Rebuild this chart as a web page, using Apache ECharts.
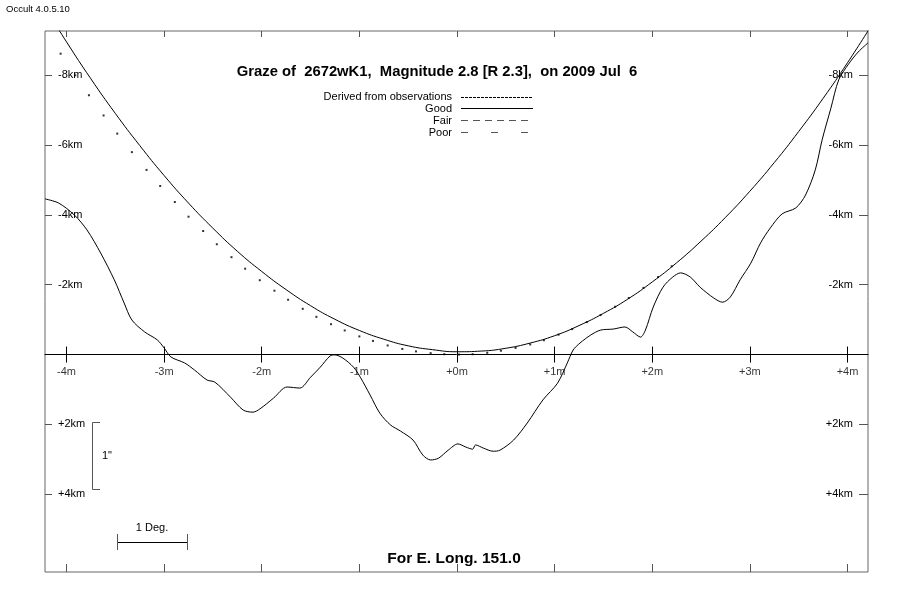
<!DOCTYPE html>
<html>
<head>
<meta charset="utf-8">
<script src="https://cdn.jsdelivr.net/npm/echarts@6/dist/echarts.min.js"></script>
<style>
html,body{margin:0;padding:0;background:#fff;}
#chart{width:913px;height:602px;}
</style>
</head>
<body>
<div id="chart"></div>
<script>
// Tick values
const tickMinutes = [-4, -3, -2, -1, 0, 1, 2, 3, 4];
const tickKm = [-8, -6, -4, -2, 2, 4];

// Limb profile (minutes of arc, km)
const profileX = [-4.22,-4.08,-3.92,-3.79,-3.65,-3.51,-3.41,-3.33,-3.20,-3.07,-3.00,-2.93,-2.79,-2.69,-2.56,-2.48,-2.32,-2.19,-2.09,-2.02,-1.88,-1.74,-1.61,-1.50,-1.40,-1.30,-1.25,-1.17,-1.06,-0.99,-0.89,-0.79,-0.68,-0.58,-0.45,-0.35,-0.27,-0.19,-0.09,0.01,0.09,0.16,0.19,0.27,0.37,0.44,0.58,0.72,0.88,1.03,1.13,1.19,1.26,1.37,1.47,1.60,1.72,1.80,1.88,1.93,2.01,2.11,2.21,2.29,2.39,2.49,2.63,2.72,2.80,2.90,3.01,3.11,3.21,3.33,3.47,3.57,3.67,3.74,3.83,3.91,4.01,4.11,4.21];
const profileY = [-4.46,-4.34,-4.00,-3.57,-2.91,-2.14,-1.48,-0.99,-0.65,-0.42,-0.19,0.07,0.24,0.44,0.73,0.79,1.22,1.59,1.65,1.56,1.25,0.93,0.96,0.65,0.36,0.04,0.01,0.10,0.36,0.65,1.16,1.68,2.02,2.19,2.45,2.88,3.02,2.97,2.74,2.56,2.65,2.71,2.59,2.68,2.77,2.74,2.45,1.96,1.30,0.82,0.24,-0.13,-0.33,-0.56,-0.70,-0.73,-0.79,-0.65,-0.50,-0.70,-1.36,-1.93,-2.22,-2.34,-2.22,-1.93,-1.62,-1.50,-1.65,-2.14,-2.62,-3.20,-3.63,-4.03,-4.20,-4.57,-5.29,-6.15,-7.06,-7.87,-8.32,-8.67,-8.93];

// Predicted limb (solid smooth curve)
const predX = [-4.25,-4.00,-3.75,-3.50,-3.25,-3.00,-2.75,-2.50,-2.25,-2.00,-1.75,-1.50,-1.25,-1.00,-0.75,-0.50,-0.25,0.00,0.25,0.50,0.75,1.00,1.25,1.50,1.75,2.00,2.25,2.50,2.75,3.00,3.25,3.50,3.75,4.00,4.25];
const predY = [-10.08,-8.96,-7.90,-6.91,-5.99,-5.13,-4.34,-3.62,-2.96,-2.38,-1.86,-1.40,-1.01,-0.69,-0.44,-0.25,-0.14,-0.08,-0.10,-0.18,-0.33,-0.54,-0.83,-1.18,-1.59,-2.08,-2.63,-3.25,-3.93,-4.68,-5.50,-6.39,-7.34,-8.36,-9.45];

// Curve derived from observations (dots)
const obsX = [-4.06,-3.91,-3.77,-3.62,-3.48,-3.33,-3.18,-3.04,-2.89,-2.75,-2.60,-2.46,-2.31,-2.17,-2.02,-1.87,-1.73,-1.58,-1.44,-1.29,-1.15,-1.00,-0.86,-0.71,-0.56,-0.42,-0.27,-0.13,0.02,0.16,0.31,0.45,0.60,0.75,0.89,1.04,1.18,1.33,1.47,1.62,1.76,1.91,2.06,2.20];
const obsY = [-8.62,-8.00,-7.43,-6.85,-6.33,-5.80,-5.29,-4.83,-4.37,-3.95,-3.54,-3.16,-2.79,-2.46,-2.13,-1.83,-1.57,-1.31,-1.08,-0.87,-0.69,-0.52,-0.39,-0.26,-0.16,-0.09,-0.04,-0.01,0.00,-0.01,-0.05,-0.11,-0.19,-0.29,-0.41,-0.57,-0.73,-0.93,-1.13,-1.37,-1.62,-1.91,-2.22,-2.53];

const zip = (a, b) => a.map((v, i) => [v, b[i]]);
const FONT = 'Liberation Sans, Arial, sans-serif';
const X_MIN = -4.22, X_MAX = 4.21, Y_MIN = -9.27, Y_MAX = 6.23;

const kmFmt = v => (v > 0 ? '+' + v : '' + v) + 'km';
const minFmt = v => (v >= 0 ? '+' + v : '' + v) + 'm';

function xAx(pos, onZero, tickInside, tickLen, showLine) {
  return {
    type: 'value', min: X_MIN, max: X_MAX, position: pos,
    axisLine: { show: showLine, onZero: onZero, lineStyle: { color: '#000', width: 1 } },
    axisTick: { show: true, inside: tickInside, length: tickLen, customValues: tickMinutes,
      lineStyle: { color: onZero ? '#000' : '#555', width: 1 } },
    axisLabel: { show: false },
    splitLine: { show: false }
  };
}
function yAx(pos, tickLen, margin) {
  return {
    type: 'value', min: Y_MIN, max: Y_MAX, inverse: true, position: pos,
    axisLine: { show: false, onZero: false },
    axisTick: { show: true, inside: true, length: tickLen, customValues: tickKm,
      lineStyle: { color: '#555', width: 1 } },
    axisLabel: { show: true, inside: true, customValues: tickKm, formatter: kmFmt,
      color: '#000', fontSize: 11, fontFamily: FONT, margin: margin },
    splitLine: { show: false }
  };
}

const chart = echarts.init(document.getElementById('chart'), null, { renderer: 'canvas' });
chart.setOption({
  animation: false,
  backgroundColor: '#fff',
  grid: { left: 45, right: 45, top: 31, bottom: 30, show: true, borderColor: '#666', borderWidth: 1, backgroundColor: 'transparent' },
  xAxis: [
    xAx('bottom', false, true, 8, false),
    xAx('top', false, true, 6, false),
    xAx('bottom', true, false, 8, true),
    xAx('bottom', true, true, 8, false)
  ],
  yAxis: [ yAx('left', 7, 13), yAx('right', 9, 15) ],
  series: [
    { type: 'line', xAxisIndex: 2, yAxisIndex: 0, data: zip(profileX, profileY), smooth: 0.3,
      showSymbol: false, symbol: 'none', lineStyle: { color: '#000', width: 1 } },
    { type: 'line', xAxisIndex: 2, yAxisIndex: 0, data: zip(predX, predY), smooth: true,
      showSymbol: false, symbol: 'none', lineStyle: { color: '#000', width: 1 } },
    { type: 'scatter', xAxisIndex: 2, yAxisIndex: 0, data: zip(obsX, obsY), symbol: 'rect',
      symbolSize: 2, itemStyle: { color: '#000' } },
    // minute labels under the zero line
    { type: 'scatter', xAxisIndex: 2, yAxisIndex: 0, data: tickMinutes.map(m => [m, 0]),
      symbolSize: 0, silent: true,
      label: { show: true, position: 'bottom', distance: 12, formatter: p => minFmt(p.value[0]),
        color: '#000', fontSize: 11, fontFamily: FONT } }
  ],
  graphic: [
    { type: 'text', style: { text: 'Occult 4.0.5.10', x: 6, y: 9, align: 'left', verticalAlign: 'middle', font: '9.5px ' + FONT, fill: '#000' } },
    { type: 'text', style: { text: 'Graze of  2672wK1,  Magnitude 2.8 [R 2.3],  on 2009 Jul  6', x: 437, y: 72, align: 'center', verticalAlign: 'middle', font: 'bold 14.8px ' + FONT, fill: '#000' } },
    { type: 'text', style: { text: 'Derived from observations', x: 452, y: 97, align: 'right', verticalAlign: 'middle', font: '11px ' + FONT, fill: '#000' } },
    { type: 'text', style: { text: 'Good', x: 452, y: 109, align: 'right', verticalAlign: 'middle', font: '11px ' + FONT, fill: '#000' } },
    { type: 'text', style: { text: 'Fair', x: 452, y: 121, align: 'right', verticalAlign: 'middle', font: '11px ' + FONT, fill: '#000' } },
    { type: 'text', style: { text: 'Poor', x: 452, y: 133, align: 'right', verticalAlign: 'middle', font: '11px ' + FONT, fill: '#000' } },
    { type: 'line', shape: { x1: 461, y1: 97.5, x2: 533, y2: 97.5 }, style: { stroke: '#000', lineWidth: 1, lineDash: [3, 1] } },
    { type: 'line', shape: { x1: 461, y1: 108.5, x2: 533, y2: 108.5 }, style: { stroke: '#000', lineWidth: 1 } },
    { type: 'line', shape: { x1: 461, y1: 120.5, x2: 533, y2: 120.5 }, style: { stroke: '#555', lineWidth: 1, lineDash: [7, 5] } },
    { type: 'line', shape: { x1: 461, y1: 132.5, x2: 533, y2: 132.5 }, style: { stroke: '#555', lineWidth: 1, lineDash: [7, 23] } },
    // 1" vertical scale
    { type: 'polyline', shape: { points: [[100, 422.5], [92.5, 422.5], [92.5, 489.5], [100, 489.5]] }, style: { stroke: '#555', lineWidth: 1, fill: null } },
    { type: 'text', style: { text: '1"', x: 102, y: 456, align: 'left', verticalAlign: 'middle', font: '11px ' + FONT, fill: '#000' } },
    // 1 Deg horizontal scale
    { type: 'line', shape: { x1: 117, y1: 542.5, x2: 188, y2: 542.5 }, style: { stroke: '#000', lineWidth: 1 } },
    { type: 'line', shape: { x1: 117.5, y1: 534, x2: 117.5, y2: 550 }, style: { stroke: '#555', lineWidth: 1 } },
    { type: 'line', shape: { x1: 187.5, y1: 534, x2: 187.5, y2: 550 }, style: { stroke: '#555', lineWidth: 1 } },
    { type: 'text', style: { text: '1 Deg.', x: 152, y: 528, align: 'center', verticalAlign: 'middle', font: '11px ' + FONT, fill: '#000' } },
    { type: 'text', style: { text: 'For E. Long. 151.0', x: 454, y: 559, align: 'center', verticalAlign: 'middle', font: 'bold 15.5px ' + FONT, fill: '#000' } }
  ]
});
</script>
</body>
</html>
